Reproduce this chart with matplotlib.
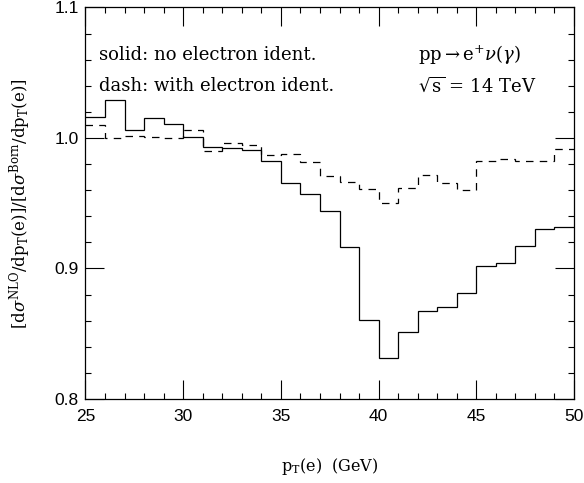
import matplotlib
matplotlib.use("Agg")
import matplotlib.pyplot as plt
from matplotlib.ticker import MultipleLocator

# bin edges in pT(e) [GeV]
edges = [25, 26, 27, 28, 29, 30, 31, 32, 33, 34, 35, 36, 37, 38, 39, 40,
         41, 42, 43, 44, 45, 46, 47, 48, 49, 50]

# solid: no electron identification
solid = [1.016, 1.029, 1.006, 1.015, 1.0105, 1.0005, 0.9934, 0.9921, 0.9908,
         0.9824, 0.9655, 0.9568, 0.9441, 0.9162, 0.8603, 0.8314, 0.8513,
         0.8672, 0.8707, 0.8812, 0.9017, 0.9042, 0.9175, 0.9303, 0.9318]

# dash: with electron identification
dash = [1.010, 1.0003, 1.0015, 1.001, 1.000, 1.006, 0.990, 0.9964, 0.995,
        0.9872, 0.9877, 0.9819, 0.9711, 0.966, 0.9609, 0.9502, 0.9614,
        0.9719, 0.9653, 0.9602, 0.9824, 0.9841, 0.9824, 0.9824, 0.9913]

plt.rcParams['mathtext.fontset'] = 'dejavuserif'
serif = 'DejaVu Serif'
sans = 'Liberation Sans'

fig = plt.figure(figsize=(5.84, 4.83), dpi=100)
ax = fig.add_axes([0.1464, 0.1739, 0.8365, 0.8106])

ax.stairs(solid, edges, baseline=None, color='black', lw=0.9)
ax.stairs(dash, edges, baseline=None, color='black', lw=0.9,
          linestyle=(0, (6, 5)))

ax.set_xlim(25, 50)
ax.set_ylim(0.8, 1.1)
ax.xaxis.set_minor_locator(MultipleLocator(1))
ax.yaxis.set_minor_locator(MultipleLocator(0.02))
ax.tick_params(which='both', direction='in', top=True, right=True, width=0.8)
ax.tick_params(which='major', length=14)
ax.tick_params(which='minor', length=4.5)
ax.tick_params(axis='x', which='major', pad=7)
ax.tick_params(axis='y', which='major', pad=5)
for s in ax.spines.values():
    s.set_linewidth(0.9)

ax.set_xticks([25, 30, 35, 40, 45, 50])
ax.set_xticklabels(['25', '30', '35', '40', '45', '50'], fontfamily=sans, fontsize=12.5)
ax.set_yticks([0.8, 0.9, 1.0, 1.1])
ax.set_yticklabels(['0.8', '0.9', '1.0', '1.1'], fontfamily=sans, fontsize=12.5)

ax.set_xlabel(r'p$_{\mathrm{T}}$(e)  (GeV)', fontfamily=serif, fontsize=11.5,
              labelpad=23)
ax.set_ylabel(r'[d$\sigma^{\mathrm{NLO}}$/dp$_{\mathrm{T}}$(e)]/[d$\sigma^{\mathrm{Born}}$/dp$_{\mathrm{T}}$(e)]',
              fontfamily=serif, fontsize=12, labelpad=15)

tkw = dict(transform=fig.transFigure, fontfamily=serif, fontsize=13,
           va='center', ha='left')
fig.text(99 / 584, 1 - 55 / 483, 'solid: no electron ident.', **tkw)
fig.text(99 / 584, 1 - 86 / 483, 'dash: with electron ident.', **tkw)
fig.text(418 / 584, 1 - 55 / 483, r'pp$\rightarrow$e$^{+}\nu(\gamma)$', **tkw)
fig.text(418 / 584, 1 - 86 / 483, r'$\sqrt{\mathrm{s}}$ = 14 TeV', **tkw)

fig.savefig('out.png', dpi=100)
